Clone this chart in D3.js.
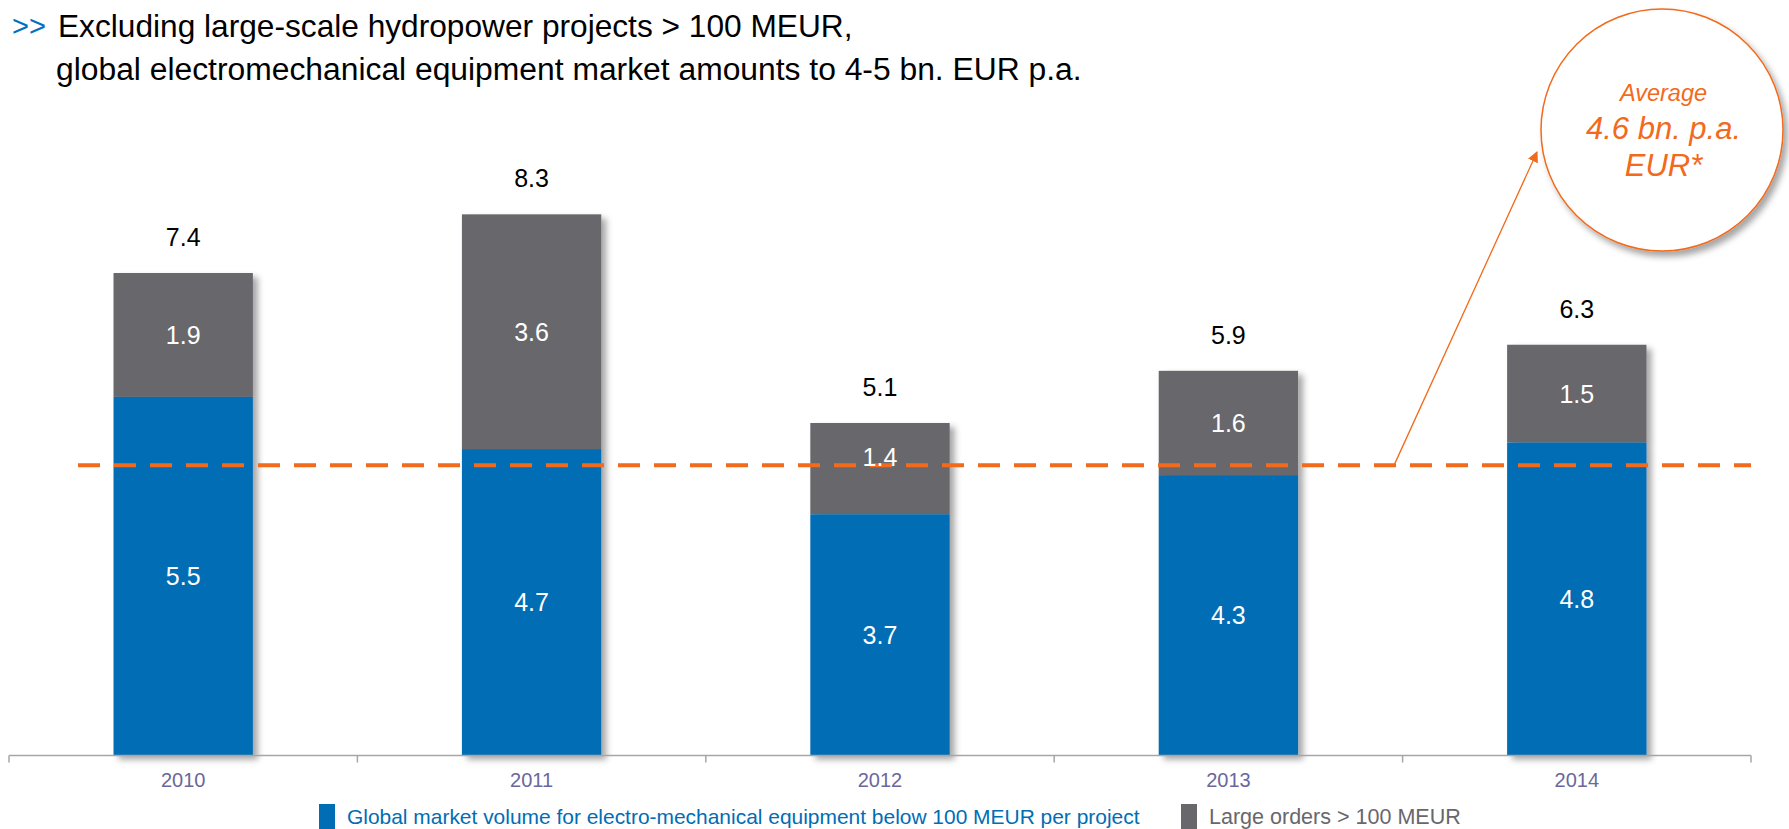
<!DOCTYPE html>
<html><head><meta charset="utf-8">
<script src="https://cdn.jsdelivr.net/npm/d3@7"></script>
<style>
html,body{margin:0;padding:0;background:#fff;}
svg{display:block;font-family:"Liberation Sans",Arial,sans-serif;}
</style></head>
<body>
<svg id="chart" width="1789" height="829"></svg>
<script>
const years = ["2010","2011","2012","2013","2014"];
const smallProjects = [5.5, 4.7, 3.7, 4.3, 4.8];
const largeOrders = [1.9, 3.6, 1.4, 1.6, 1.5];
const totals = [7.4, 8.3, 5.1, 5.9, 6.3];
const averageLevel = 4.45;
const seriesNames = ["Global market volume for electro-mechanical equipment below 100 MEUR per project", "Large orders > 100 MEUR"];
const titleLines = ["Excluding large-scale hydropower projects > 100 MEUR,", "global electromechanical equipment market amounts to 4-5 bn. EUR p.a."];
const badgeLines = ["Average", "4.6 bn. p.a.", "EUR*"];

const BLUE = "#006db4", GREY = "#68676c", ORANGE = "#f26a1b";
const svg = d3.select("#chart");

const defs = svg.append("defs");
const f = defs.append("filter").attr("id","shadow").attr("x","-20%").attr("y","-20%").attr("width","150%").attr("height","150%");
f.append("feDropShadow").attr("dx",5).attr("dy",4).attr("stdDeviation",3).attr("flood-color","#000").attr("flood-opacity",0.35);
const f2 = defs.append("filter").attr("id","cshadow").attr("x","-20%").attr("y","-20%").attr("width","150%").attr("height","150%");
f2.append("feDropShadow").attr("dx",4).attr("dy",5).attr("stdDeviation",3).attr("flood-color","#000").attr("flood-opacity",0.35);
const mk = defs.append("marker").attr("id","arrow").attr("viewBox","0 0 10 10").attr("refX",9).attr("refY",5)
  .attr("markerWidth",11).attr("markerHeight",11).attr("markerUnits","userSpaceOnUse").attr("orient","auto");
mk.append("path").attr("d","M0,0 L10,5 L0,10 Z").attr("fill",ORANGE);

const baseline = 755.5;
const y = d3.scaleLinear().domain([0, 9]).range([baseline, baseline - 9*65.2]);
const x = d3.scaleBand().domain(years).range([9, 1751]).padding(0);
const barW = x.bandwidth()*0.4;
const bx = d => x(d) + (x.bandwidth()-barW)/2;

// fit helper: set font size so the text spans the given width
function fitText(sel, width){
  sel.attr("font-size",100);
  const w = sel.node().getComputedTextLength();
  sel.attr("font-size", 100*width/w);
}

// title
const title = svg.append("g");
title.append("text").attr("x",12).attr("y",36).attr("fill","#0070c0").attr("font-size",29).text(">>");
const tl1 = title.append("text").attr("x",58).attr("y",36.5).attr("fill","#000").text(titleLines[0]);
fitText(tl1, 795);
const tl2 = title.append("text").attr("x",56).attr("y",79.5).attr("fill","#000").text(titleLines[1]);
fitText(tl2, 1026);

// bars
const data = years.map((yr,i)=>({yr, a:smallProjects[i], b:largeOrders[i], t:totals[i]}));
const bars = svg.append("g");
data.forEach(d=>{
  const g = bars.append("g").attr("filter","url(#shadow)");
  g.append("rect").attr("x",bx(d.yr)).attr("width",barW).attr("y",y(d.a+d.b)).attr("height",y(d.a)-y(d.a+d.b)).attr("fill",GREY);
  g.append("rect").attr("x",bx(d.yr)).attr("width",barW).attr("y",y(d.a)).attr("height",y(0)-y(d.a)).attr("fill",BLUE);
});

// average dashed line
svg.append("line").attr("x1",78).attr("x2",1751).attr("y1",y(averageLevel)).attr("y2",y(averageLevel))
  .attr("stroke",ORANGE).attr("stroke-width",4).attr("stroke-dasharray","22,14");

// labels
const labelNudge = {"2012": -12};
data.forEach(d=>{
  const cx = x(d.yr)+x.bandwidth()/2;
  svg.append("text").attr("x",cx).attr("y",(y(0)+y(d.a))/2).attr("dy","0.36em").attr("text-anchor","middle")
    .attr("fill","#fff").attr("font-size",25).text(d.a.toFixed(1));
  svg.append("text").attr("x",cx).attr("y",(y(d.a)+y(d.a+d.b))/2 + (labelNudge[d.yr]||0)).attr("dy","0.36em").attr("text-anchor","middle")
    .attr("fill","#fff").attr("font-size",25).text(d.b.toFixed(1));
  svg.append("text").attr("x",cx).attr("y",y(d.t)-36).attr("dy","0.36em").attr("text-anchor","middle")
    .attr("fill","#000").attr("font-size",25).text(d.t.toFixed(1));
});

// axis
const axis = svg.append("g").attr("transform",`translate(0,${baseline})`);
axis.append("line").attr("x1",9).attr("x2",1751).attr("stroke","#a6a6a6").attr("stroke-width",1.5);
const bounds = years.map(d=>x(d)).concat([x(years[years.length-1])+x.step()]);
axis.selectAll(".tk").data(bounds).join("line").attr("x1",d=>d).attr("x2",d=>d).attr("y1",0).attr("y2",7)
  .attr("stroke","#a6a6a6").attr("stroke-width",1.5);
axis.selectAll(".lb").data(years).join("text").attr("x",d=>x(d)+x.bandwidth()/2).attr("y",31.5)
  .attr("text-anchor","middle").attr("fill","#6a679b").attr("font-size",20).text(d=>d);

// legend
const lg = svg.append("g");
lg.append("rect").attr("x",319).attr("y",804).attr("width",16).attr("height",25).attr("fill",BLUE);
const lt1 = lg.append("text").attr("x",347).attr("y",824).attr("fill",BLUE).text(seriesNames[0]);
fitText(lt1, 793);
lg.append("rect").attr("x",1181).attr("y",804).attr("width",16).attr("height",25).attr("fill",GREY);
const lt2 = lg.append("text").attr("x",1209).attr("y",824).attr("fill",GREY).text(seriesNames[1]);
fitText(lt2, 252);

// arrow
svg.append("line").attr("x1",1394).attr("y1",y(averageLevel)).attr("x2",1537).attr("y2",152)
  .attr("stroke",ORANGE).attr("stroke-width",1.3).attr("marker-end","url(#arrow)");

// badge
const badge = svg.append("g");
badge.append("circle").attr("cx",1662).attr("cy",130).attr("r",121).attr("fill","#fff").attr("stroke",ORANGE).attr("stroke-width",1.5).attr("filter","url(#cshadow)");
badge.append("text").attr("x",1663.5).attr("y",101).attr("text-anchor","middle").attr("font-style","italic").attr("fill",ORANGE).attr("font-size",23.5).text(badgeLines[0]);
badge.append("text").attr("x",1663.5).attr("y",139).attr("text-anchor","middle").attr("font-style","italic").attr("fill",ORANGE).attr("font-size",31).text(badgeLines[1]);
badge.append("text").attr("x",1663.5).attr("y",176).attr("text-anchor","middle").attr("font-style","italic").attr("fill",ORANGE).attr("font-size",31).text(badgeLines[2]);
</script>
</body></html>
